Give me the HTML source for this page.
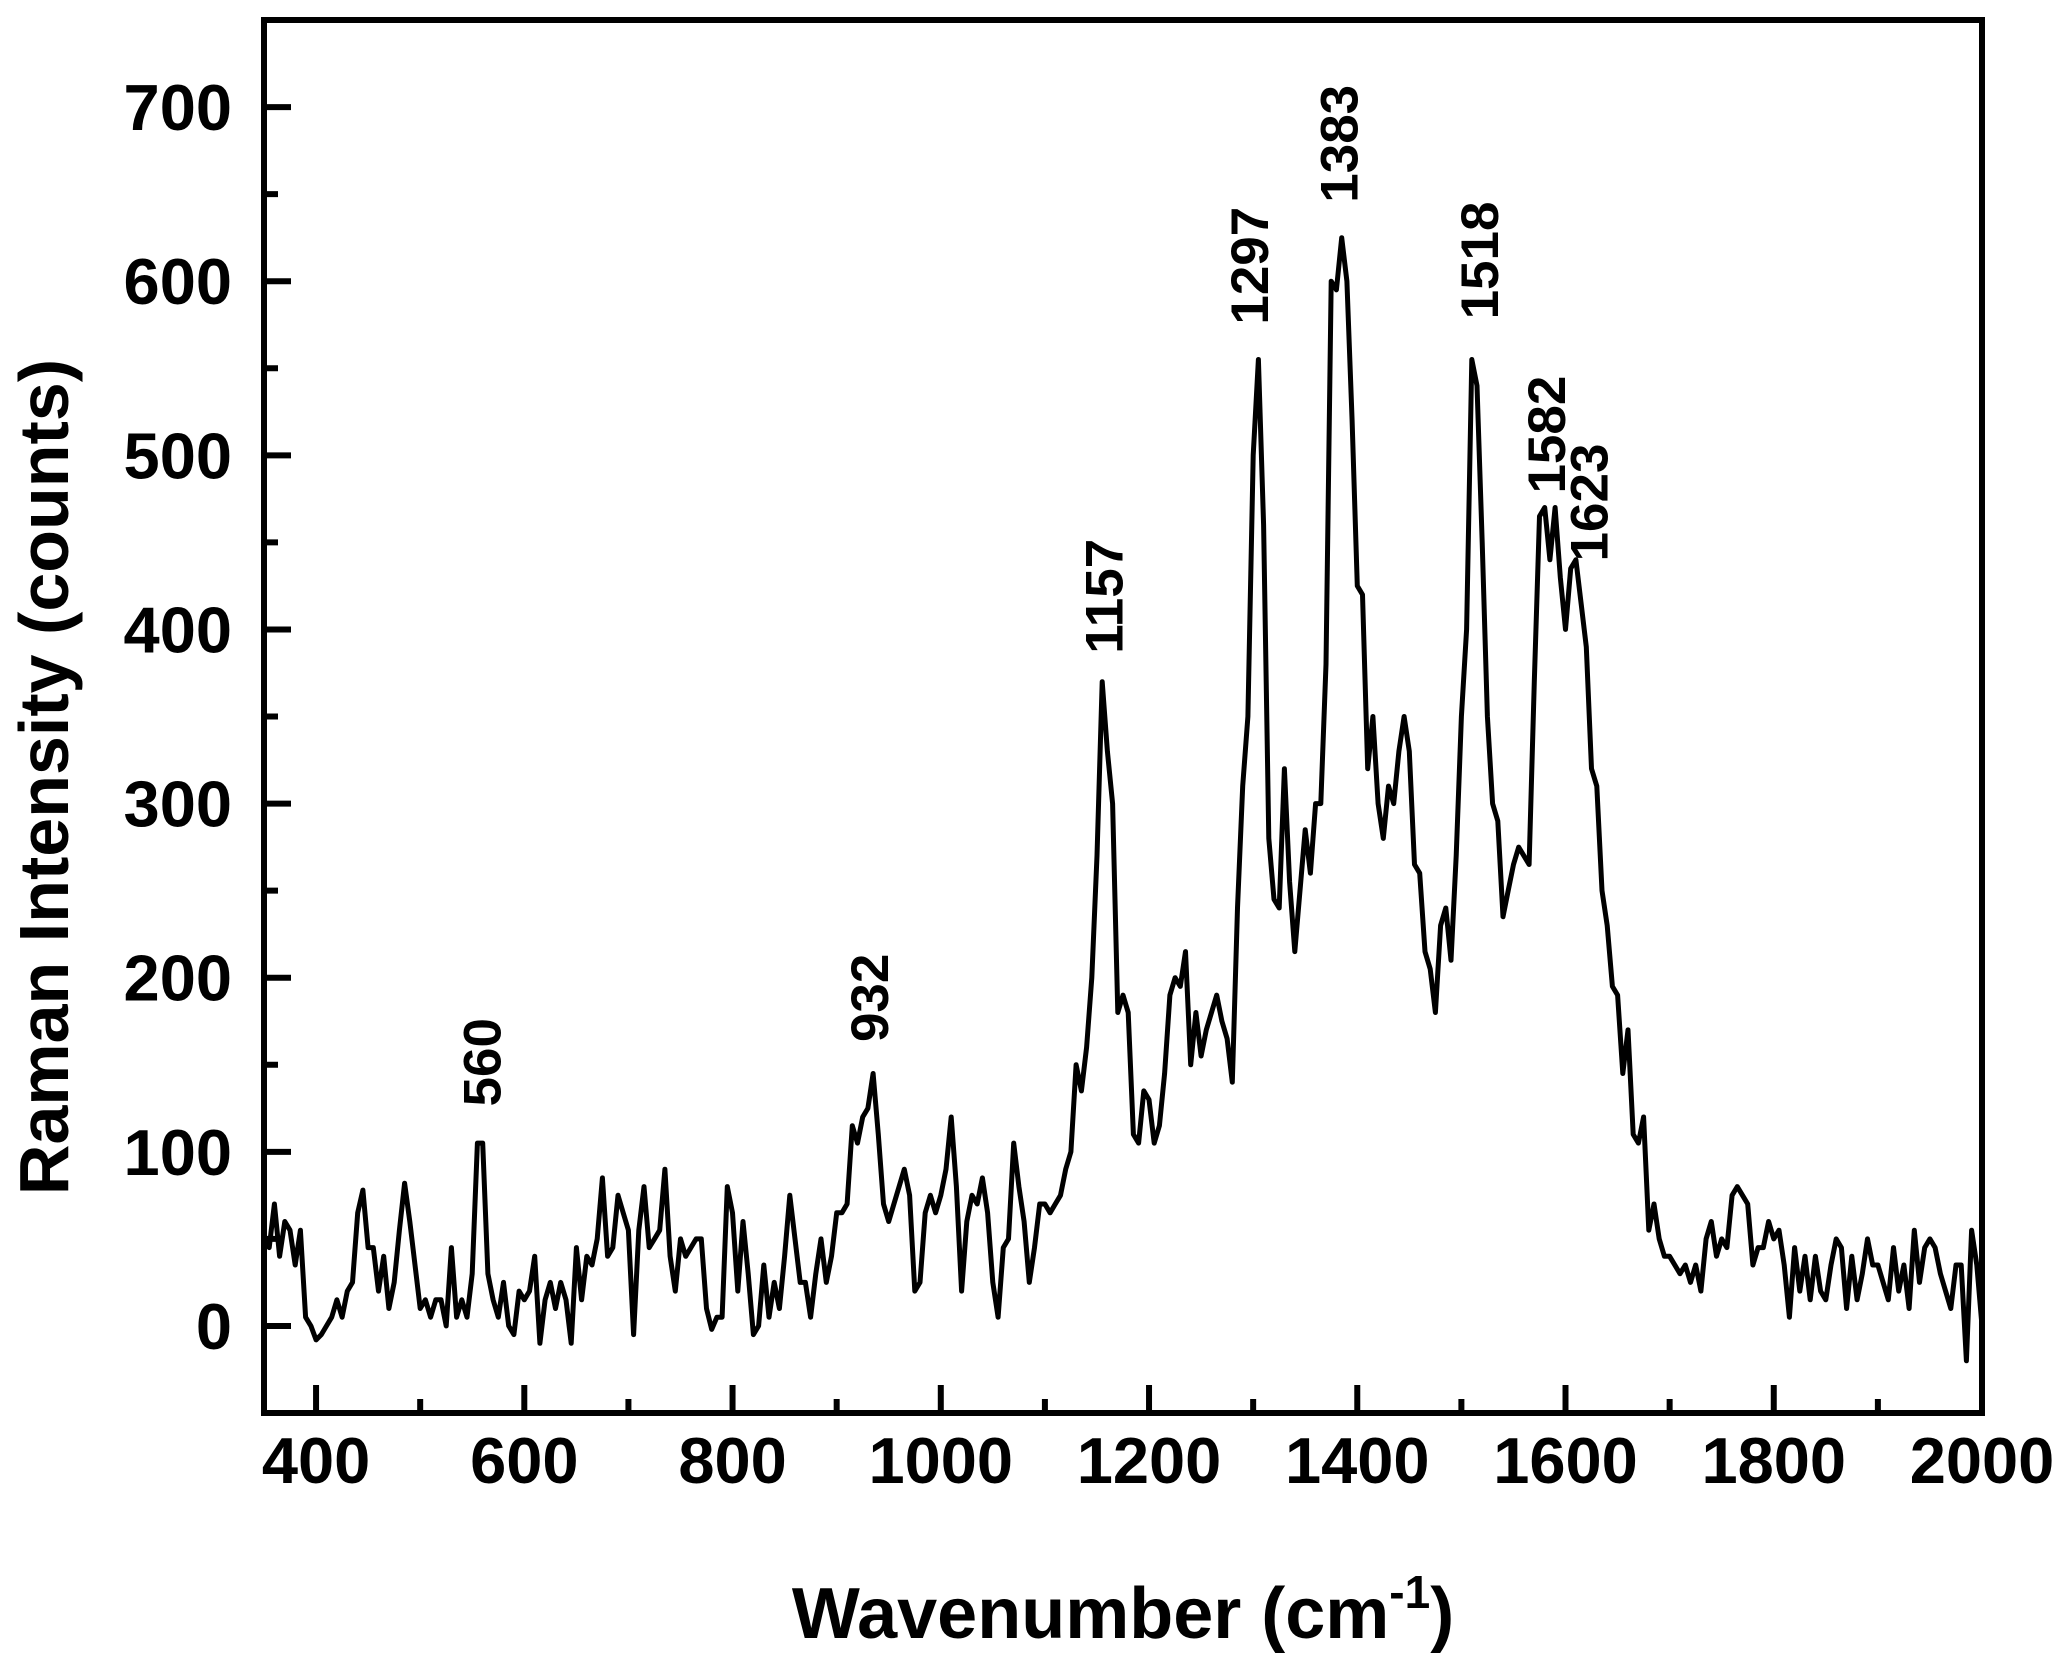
<!DOCTYPE html>
<html><head><meta charset="utf-8"><style>
html,body{margin:0;padding:0;background:#fff;}
svg{display:block;}
text{font-family:"Liberation Sans",Arial,sans-serif;font-weight:bold;fill:#000;}
</style></head><body>
<svg id="chart" width="2064" height="1659" viewBox="0 0 2064 1659" xmlns="http://www.w3.org/2000/svg">
<g id="ticks"></g>
<g id="labels"></g>
<path id="spectrum" fill="none" stroke="#000" stroke-width="5" stroke-linejoin="round"/>
<rect x="264" y="20" width="1718" height="1393" fill="none" stroke="#000" stroke-width="6"/>
<g id="peaks"></g>
<text x="1123" y="1638" font-size="72" text-anchor="middle">Wavenumber (cm<tspan font-size="46" dy="-30">-1</tspan><tspan dy="30">)</tspan></text>
<text transform="translate(68,777) rotate(-90)" font-size="70" text-anchor="middle">Raman Intensity (counts)</text>
</svg>
<script>
const xStart = 350, xStep = 5;
const intensities = [
50,45,70,40,60,55,35,55,5,0,
-8,-5,0,5,15,5,20,25,65,78,
45,45,20,40,10,25,55,82,60,35,
10,15,5,15,15,0,45,5,15,5,
30,105,105,30,15,5,25,0,-5,20,
15,20,40,-10,15,25,10,25,15,-10,
45,15,40,35,50,85,40,45,75,65,
55,-5,55,80,45,50,55,90,40,20,
50,40,45,50,50,10,-2,5,5,80,
65,20,60,30,-5,0,35,5,25,10,
40,75,50,25,25,5,30,50,25,40,
65,65,70,115,105,120,125,145,110,70,
60,70,80,90,75,20,25,65,75,65,
75,90,120,80,20,60,75,70,85,65,
25,5,45,50,105,80,60,25,45,70,
70,65,70,75,90,100,150,135,160,200,
270,370,330,300,180,190,180,110,105,135,
130,105,115,145,190,200,195,215,150,180,
155,170,180,190,175,165,140,240,310,350,
500,555,460,280,245,240,320,255,215,250,
285,260,300,300,380,600,595,625,600,520,
425,420,320,350,300,280,310,300,330,350,
330,265,260,215,205,180,230,240,210,270,
350,400,555,540,450,350,300,290,235,250,
265,275,270,265,370,465,470,440,470,430,
400,435,440,415,390,320,310,250,230,195,
190,145,170,110,105,120,55,70,50,40,
40,35,30,35,25,35,20,50,60,40,
50,45,75,80,75,70,35,45,45,60,
50,55,35,5,45,20,40,15,40,20,
15,35,50,45,10,40,15,30,50,35,
35,25,15,45,20,35,10,55,25,45,
50,45,30,20,10,35,35,-20,55,35,
0];
const xTicks = [400,600,800,1000,1200,1400,1600,1800,2000];
const xMinor = [500,700,900,1100,1300,1500,1700,1900];
const yTicks = [0,100,200,300,400,500,600,700];
const yMinor = [-50,50,150,250,350,450,550,650];
const peakPos = [560,932,1157,1297,1383,1518,1582,1623];
const peakText = ["560","932","1157","1297","1383","1518","1582","1623"];
const peakHeight = [118,155,378,567,637,570,470,431];

const X0=350,X1=2000,Y0=-50,Y1=750,L=264,R=1982,T=20,B=1413;
function sx(v){return L+(v-X0)*(R-L)/(X1-X0);}
function sy(v){return B-(v-Y0)*(B-T)/(Y1-Y0);}
const NS="http://www.w3.org/2000/svg";
let d="";
intensities.forEach((v,i)=>{const x=xStart+xStep*i;d+=(i?"L":"M")+sx(Math.min(x,X1)).toFixed(1)+","+sy(v).toFixed(1);});
document.getElementById('spectrum').setAttribute('d',d);
const tg=document.getElementById('ticks'), lg=document.getElementById('labels'), pg=document.getElementById('peaks');
function line(x1,y1,x2,y2,name){const l=document.createElementNS(NS,'line');
l.setAttribute('x1',x1);l.setAttribute('y1',y1);l.setAttribute('x2',x2);l.setAttribute('y2',y2);
l.setAttribute('stroke','#000');l.setAttribute('stroke-width','6');


tg.appendChild(l);}
xTicks.forEach(v=>{line(sx(v),B,sx(v),B-28,'x-major-tick');
const t=document.createElementNS(NS,'text');t.setAttribute('x',sx(v));t.setAttribute('y',1483);t.setAttribute('font-size','65');t.setAttribute('text-anchor','middle');t.textContent=v;


lg.appendChild(t);});
xMinor.forEach(v=>line(sx(v),B,sx(v),B-14,'x-minor-tick'));
yTicks.forEach(v=>{line(L,sy(v),L+27,sy(v),'y-major-tick');
const t=document.createElementNS(NS,'text');t.setAttribute('x',232);t.setAttribute('y',sy(v)+23);t.setAttribute('font-size','65');t.setAttribute('text-anchor','end');t.textContent=v;


lg.appendChild(t);});
yMinor.forEach(v=>line(L,sy(v),L+14,sy(v),'y-minor-tick'));
peakPos.forEach((p,i)=>{const t=document.createElementNS(NS,'text');
const x=sx(p)+18, y=sy(peakHeight[i])-14;
t.setAttribute('transform','translate('+x+','+y+') rotate(-90)');
t.setAttribute('font-size','53');t.textContent=peakText[i];


pg.appendChild(t);});
</script>
</body></html>
